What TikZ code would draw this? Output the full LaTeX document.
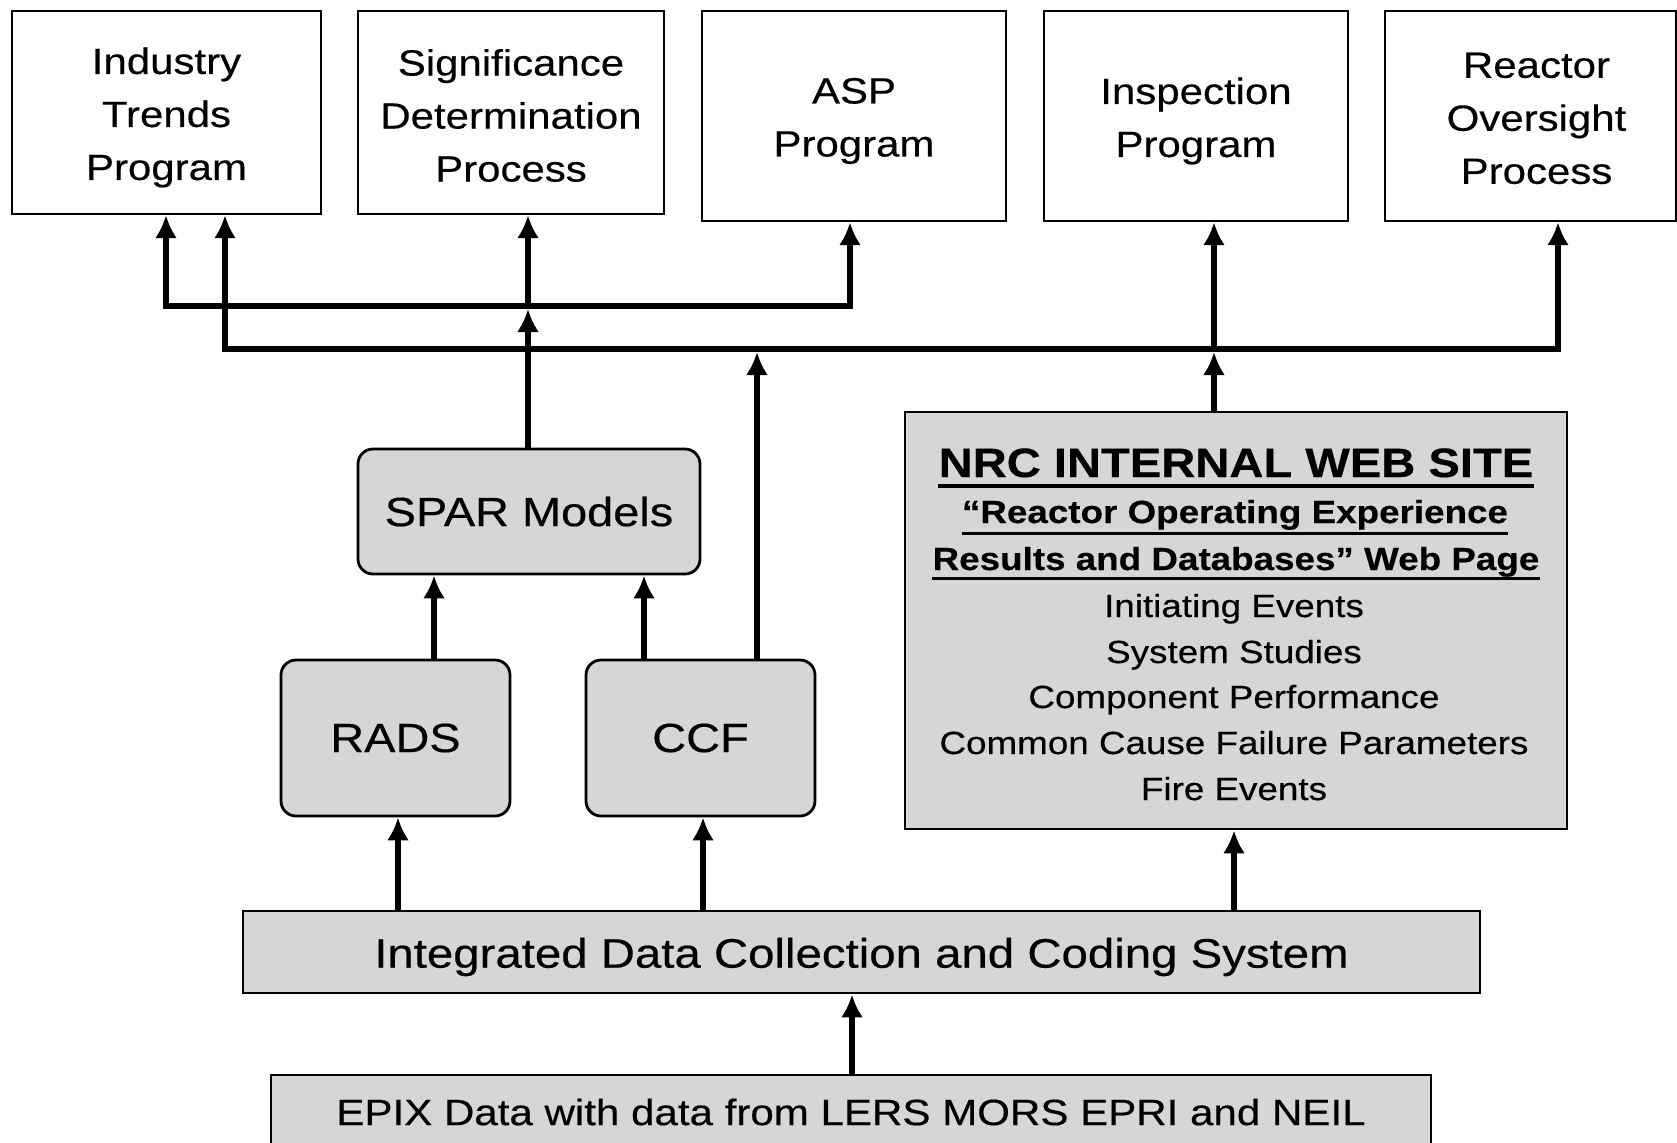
\documentclass[tikz,border=0pt]{standalone}
\usepackage{fontspec}
\setmainfont{Liberation Sans}[FakeStretch=1.15, FakeBold=0.4]
\usetikzlibrary{arrows.meta}
\definecolor{shade}{gray}{0.84}
\begin{document}
\begin{tikzpicture}[x=0.5pt,y=-0.5pt,
  topbox/.style={draw, line width=1.2pt, inner sep=0pt},
  toptext/.style={align=center, inner sep=0pt, font=\fontsize{18.25}{26.5}\selectfont},
  rbox/.style={draw, line width=1.4pt, rounded corners=7.5pt, fill=shade, inner sep=0pt,
    font=\fontsize{20.4}{24}\selectfont},
  sbox/.style={draw, line width=1.4pt, fill=shade, inner sep=0pt},
  arr/.style={line width=3pt, -{Latex[length=11.5pt,width=11pt]}},
  bus/.style={line width=3pt, line cap=rect},
  wtxt/.style={anchor=base, inner sep=0pt},
]
\clip (0,0) rectangle (1677,1142);
\fill[white] (0,0) rectangle (1677,1142);

% top boxes
\node[topbox, minimum width=154.5pt, minimum height=101.5pt] (ind) at (166.5,112.5) {};
\node[topbox, minimum width=153pt, minimum height=101.5pt] (sdp) at (511,112.5) {};
\node[topbox, minimum width=152pt, minimum height=105pt] (asp) at (854,116) {};
\node[topbox, minimum width=152pt, minimum height=105pt] (insp) at (1196,116) {};
\node[topbox, minimum width=145.5pt, minimum height=105pt] (rop) at (1530.5,116) {};
\node[toptext] (indt) at ([yshift=-2.5pt]ind.center) {Industry\\Trends\\Program};
\node[toptext] (sdpt) at ([yshift=-1.5pt]sdp.center) {Significance\\Determination\\Process};
\node[toptext] (aspt) at ([yshift=-2.5pt]asp.center) {ASP\\Program};
\node[toptext] (inspt) at ([yshift=-2.5pt]insp.center) {Inspection\\Program};
\node[toptext] (ropt) at ([xshift=3pt,yshift=-1.2pt]rop.center) {Reactor\\Oversight\\Process};

% middle boxes
\node[rbox, minimum width=171pt, minimum height=62.5pt] (spar) at (529,511.5) {SPAR Models};
\node[rbox, minimum width=114.5pt, minimum height=78pt] (rads) at (395.5,738) {RADS};
\node[rbox, minimum width=114.5pt, minimum height=78pt] (ccf) at (700.5,738) {CCF};

% web site box
\node[sbox, minimum width=331pt, minimum height=208.5pt] (web) at (1236,620.5) {};
\node[wtxt, font=\bfseries\fontsize{20.5}{24}\selectfont] (wt) at (1236,477) {NRC INTERNAL WEB SITE};
\node[wtxt, font=\bfseries\fontsize{16}{20}\selectfont] (w2) at (1235,523) {“Reactor Operating Experience};
\node[wtxt, font=\bfseries\fontsize{16}{20}\selectfont] (w3) at (1236,570) {Results and Databases” Web Page};
\draw[line width=2pt] ([yshift=-4.5pt]wt.base west) -- ([yshift=-4.5pt]wt.base east);
\draw[line width=1.5pt] ([yshift=-5pt]w2.base west) -- ([yshift=-5pt]w2.base east);
\draw[line width=1.5pt] ([yshift=-4pt]w3.base west) -- ([yshift=-4pt]w3.base east);
\node[wtxt, font=\fontsize{16}{20}\selectfont] (i1) at (1234,617) {Initiating Events};
\node[wtxt, font=\fontsize{16}{20}\selectfont] (i2) at (1234,663) {System Studies};
\node[wtxt, font=\fontsize{16}{20}\selectfont] (i3) at (1234,708) {Component Performance};
\node[wtxt, font=\fontsize{16}{20}\selectfont] (i4) at (1234,754) {Common Cause Failure Parameters};
\node[wtxt, font=\fontsize{16}{20}\selectfont] (i5) at (1234,800) {Fire Events};

% bottom boxes
\node[sbox, minimum width=618.5pt, minimum height=41pt] (idc) at (861.5,952) {};
\node[inner sep=0pt, font=\fontsize{20.6}{24}\selectfont] (idct) at ([yshift=-2.5pt]idc.center) {Integrated Data Collection and Coding System};
\node[sbox, minimum width=580pt, minimum height=37pt, font=\fontsize{18.3}{22}\selectfont] (epix) at (851,1112) {EPIX Data with data from LERS MORS EPRI and NEIL};

% x positions of connectors
\coordinate (xa) at (166,0);
\coordinate (xb) at (225,0);
\coordinate (xc) at (528,0);
\coordinate (xd) at (850,0);
\coordinate (xf) at (1214,0);
\coordinate (xg) at (1558,0);
\coordinate (xh) at (757,0);
\coordinate (xi) at (434,0);
\coordinate (xj) at (644,0);
\coordinate (xk) at (398,0);
\coordinate (xl) at (703,0);
\coordinate (xm) at (1234,0);
\coordinate (xe) at (852,0);
% bus levels
\coordinate (ub) at (0,306);
\coordinate (lb) at (0,349);

% buses
\draw[bus] (xa |- ub) -- (xd |- ub);
\draw[bus] (xb |- lb) -- (xg |- lb);

% arrows from buses to top boxes
\draw[arr] (xa |- ub) -- (xa |- ind.south);
\draw[arr] (xb |- lb) -- (xb |- ind.south);
\draw[arr] (xc |- ub) -- (xc |- sdp.south);
\draw[arr] (xd |- ub) -- (xd |- asp.south);
\draw[arr] (xf |- lb) -- (xf |- insp.south);
\draw[arr] (xg |- lb) -- (xg |- rop.south);

% arrows into buses
\draw[arr, shorten >=1.5pt] (xc |- spar.north) -- (xc |- ub);
\draw[arr, shorten >=1.5pt] (xh |- ccf.north) -- (xh |- lb);
\draw[arr, shorten >=1.5pt] (xf |- web.north) -- (xf |- lb);

% lower arrows
\draw[arr] (xi |- rads.north) -- (xi |- spar.south);
\draw[arr] (xj |- ccf.north) -- (xj |- spar.south);
\draw[arr] (xk |- idc.north) -- (xk |- rads.south);
\draw[arr] (xl |- idc.north) -- (xl |- ccf.south);
\draw[arr] (xm |- idc.north) -- (xm |- web.south);
\draw[arr] (xe |- epix.north) -- (xe |- idc.south);
\end{tikzpicture}
\end{document}
